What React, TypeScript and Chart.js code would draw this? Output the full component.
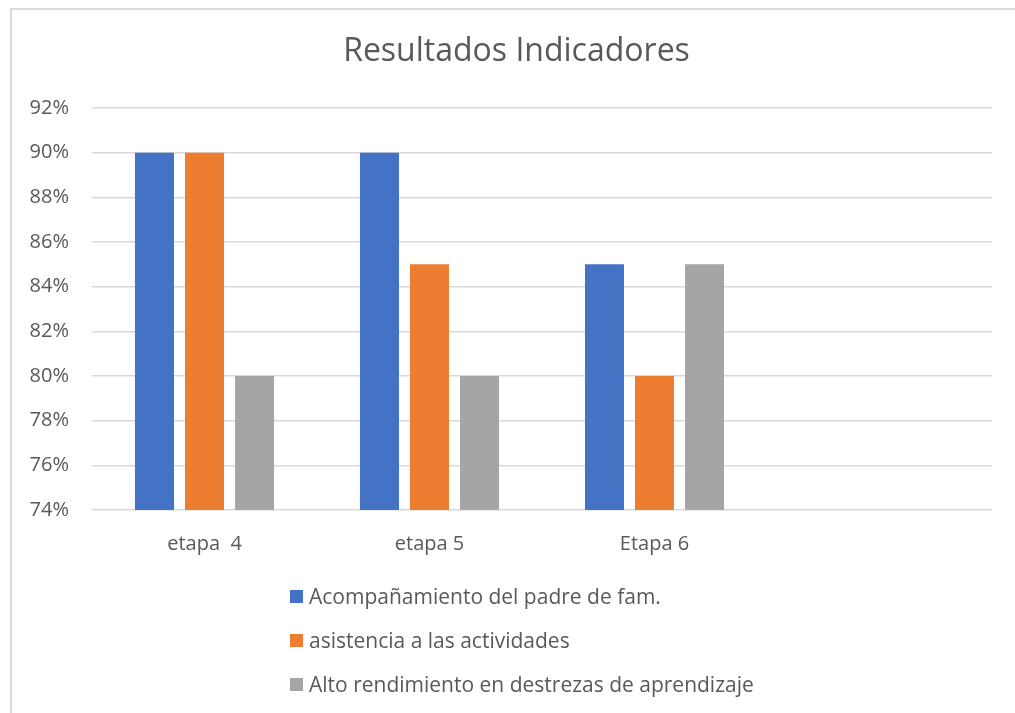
import React, { useEffect, useRef } from "react";
import { Chart, registerables } from "chart.js";

Chart.register(...registerables);

const categories = ["etapa  4", "etapa 5", "Etapa 6", ""];
const seriesNames = [
  "Acompañamiento del padre de fam.",
  "asistencia a las actividades",
  "Alto rendimiento en destrezas de aprendizaje",
];
const acompanamiento = [90, 90, 85, null];
const asistencia = [90, 85, 80, null];
const altoRendimiento = [80, 80, 85, null];
const seriesColors = ["#4472C4", "#ED7D31", "#A5A5A5"];
const yMin = 74;
const yMax = 92;
const yStep = 2;
const titleText = "Resultados Indicadores";

const FONT = "'Open Sans', sans-serif";
const TEXT = "#595959";

const titleShift = {
  id: "titleShift",
  afterLayout(chart: any) {
    const t = chart.titleBlock;
    if (t) {
      t.left = 41;
    }
  },
};

export default function App() {
  const ref = useRef<HTMLCanvasElement | null>(null);

  useEffect(() => {
    if (!ref.current) return;
    const values = [acompanamiento, asistencia, altoRendimiento];
    const chart = new Chart(ref.current, {
      type: "bar",
      data: {
        labels: categories,
        datasets: values.map((v, i) => ({
          label: seriesNames[i],
          data: v,
          backgroundColor: seriesColors[i],
          borderWidth: 0,
          categoryPercentage: 0.667,
          barPercentage: 0.78,
        })),
      },
      plugins: [titleShift],
      options: {
        animation: false,
        responsive: false,
        devicePixelRatio: 1,
        layout: { padding: { left: 0, right: 23, top: 0, bottom: 153 } },
        plugins: {
          legend: { display: false },
          tooltip: { enabled: false },
          title: {
            display: true,
            text: titleText,
            color: TEXT,
            font: { family: FONT, size: 32, weight: "normal" },
            padding: { top: 33, bottom: 36.6 },
          },
        },
        scales: {
          x: {
            grid: { display: false, drawTicks: false },
            border: { display: false },
            ticks: {
              color: TEXT,
              font: { family: FONT, size: 20 },
              padding: 22,
              maxRotation: 0,
              autoSkip: false,
            },
            afterFit: (s: any) => {
              s.height = 50;
            },
          },
          y: {
            min: yMin,
            max: yMax,
            grid: { color: "#d9d9d9", lineWidth: 1.5, drawTicks: false },
            border: { display: false },
            ticks: {
              stepSize: yStep,
              color: TEXT,
              font: { family: FONT, size: 20 },
              padding: 23,
              callback: (v: any) => v + "%",
            },
            afterFit: (s: any) => {
              s.width = 92;
            },
          },
        },
      },
    });
    return () => chart.destroy();
  }, []);

  return (
    <div
      style={{
        position: "fixed",
        left: 0,
        top: 0,
        width: 1015,
        height: 713,
        overflow: "hidden",
        background: "#fff",
      }}
    >
      <div
        style={{
          position: "absolute",
          left: 10,
          top: 8,
          width: 1030,
          height: 730,
          border: "2px solid #d9d9d9",
          boxSizing: "border-box",
        }}
      />
      <canvas
        ref={ref}
        width={1015}
        height={713}
        style={{ position: "absolute", left: 0, top: 0, width: 1015, height: 713 }}
      />
      <div
        style={{
          position: "absolute",
          left: 290,
          top: 574,
          fontFamily: FONT,
          fontSize: 21,
          color: TEXT,
        }}
      >
        {seriesNames.map((n, i) => (
          <div
            key={n}
            style={{ display: "flex", alignItems: "center", height: 44, whiteSpace: "nowrap" }}
          >
            <span
              style={{
                display: "inline-block",
                width: 13,
                height: 13,
                background: seriesColors[i],
                marginRight: 6,
              }}
            />
            <span>{n}</span>
          </div>
        ))}
      </div>
    </div>
  );
}
